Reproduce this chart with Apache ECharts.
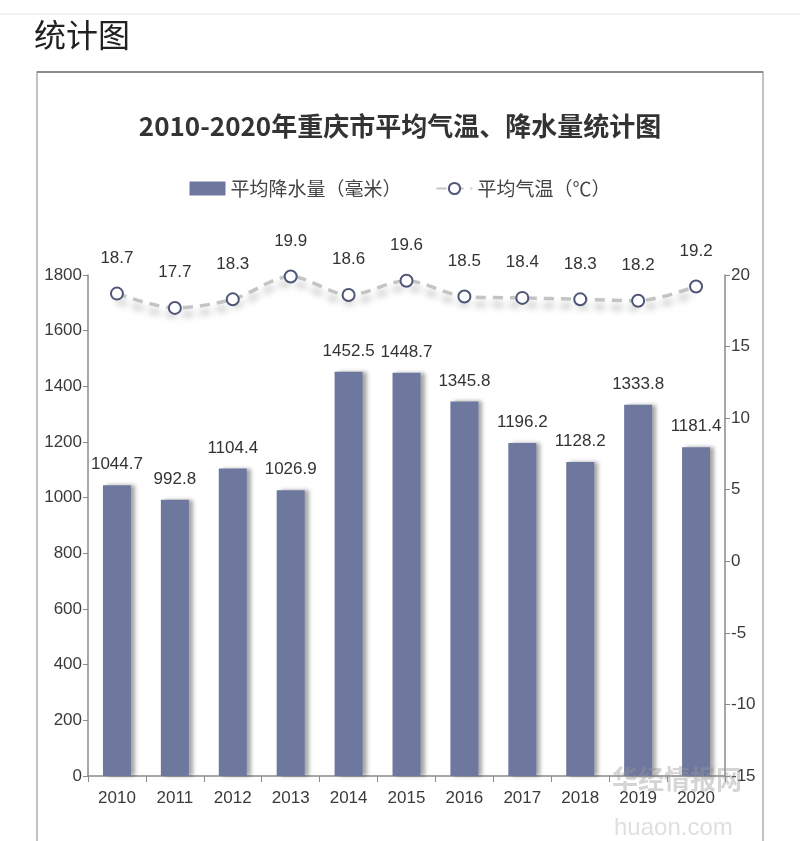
<!DOCTYPE html>
<html>
<head>
<meta charset="utf-8">
<script src="https://cdn.jsdelivr.net/npm/echarts@6/dist/echarts.min.js"></script>
<style>
html,body{margin:0;padding:0;background:#fff;}
#c{width:800px;height:841px;}
</style>
</head>
<body>
<div id="c"></div>
<script>
var years = ['2010','2011','2012','2013','2014','2015','2016','2017','2018','2019','2020'];
var rain = [1044.7, 992.8, 1104.4, 1026.9, 1452.5, 1448.7, 1345.8, 1196.2, 1128.2, 1333.8, 1181.4];
var temp = [18.7, 17.7, 18.3, 19.9, 18.6, 19.6, 18.5, 18.4, 18.3, 18.2, 19.2];
var leftTicks = {min: 0, max: 1800, interval: 200};
var rightTicks = {min: -15, max: 20, interval: 5};

var NARROW = "Liberation Sans";
var CJK = "Noto Sans CJK SC";
var FS = 17;

var chart = echarts.init(document.getElementById('c'));
chart.setOption({
  backgroundColor: '#fff',
  animation: false,
  graphic: [
    {type:'line', shape:{x1:0,y1:14,x2:800,y2:14}, style:{stroke:'#e6e6e6', lineWidth:1}},
    {type:'text', left:34, top:19, style:{text:'统计图', font:'400 32px ' + CJK, fill:'#222'}},
    {type:'rect', shape:{x:37, y:72, width:726, height:820}, style:{fill:'none', stroke:'#b0b0b0', lineWidth:1.5}, z:-1},
    {type:'line', shape:{x1:37,y1:72,x2:763,y2:72}, style:{stroke:'#8c8c8c', lineWidth:2}},
    {type:'text', left:612, top:766, style:{text:'华经情报网', font:'bold 26px ' + CJK, fill:'rgba(150,150,150,0.4)'}, z:100},
    {type:'text', left:614, top:816, style:{text:'huaon.com', font:'24px ' + NARROW, fill:'rgba(150,150,150,0.3)'}, z:100}
  ],
  title: {
    text: '2010-2020年重庆市平均气温、降水量统计图',
    left: 'center',
    top: 108,
    textStyle: {fontFamily: CJK, fontSize: 26, fontWeight: 'bold', color: '#333'}
  },
  legend: {
    top: 174,
    left: 'center',
    itemGap: 34,
    itemWidth: 36,
    itemHeight: 14,
    textStyle: {fontFamily: CJK, fontSize: 19, color: '#444'},
    data: [
      {name: '平均降水量（毫米）', icon: 'rect'},
      {name: '平均气温（℃）'}
    ]
  },
  grid: {left: 88, right: 75, top: 275, bottom: 65},
  xAxis: {
    type: 'category',
    data: years,
    boundaryGap: true,
    axisLine: {lineStyle: {color: '#8a8a8a', width: 1.5}},
    axisTick: {show: true, length: 6, lineStyle: {color: '#8a8a8a'}},
    axisLabel: {fontFamily: NARROW, fontSize: FS, color: '#3a3a3a', margin: 14}
  },
  yAxis: [
    {
      type: 'value',
      min: leftTicks.min, max: leftTicks.max, interval: leftTicks.interval,
      axisLine: {show: true, lineStyle: {color: '#8a8a8a', width: 1.5}},
      axisTick: {show: true, length: 5, lineStyle: {color: '#8a8a8a'}},
      splitLine: {show: false},
      axisLabel: {fontFamily: NARROW, fontSize: FS, color: '#3a3a3a', margin: 6, formatter: function(v){return String(v);}}
    },
    {
      type: 'value',
      min: rightTicks.min, max: rightTicks.max, interval: rightTicks.interval,
      axisLine: {show: true, lineStyle: {color: '#8a8a8a', width: 1.5}},
      axisTick: {show: true, length: 5, lineStyle: {color: '#8a8a8a'}},
      splitLine: {show: false},
      axisLabel: {fontFamily: NARROW, fontSize: FS, color: '#3a3a3a', margin: 6, formatter: function(v){return String(v);}}
    }
  ],
  series: [
    {
      name: '平均降水量（毫米）',
      type: 'bar',
      data: rain,
      barWidth: 28,
      itemStyle: {color: '#6e789f', shadowColor: 'rgba(0,0,0,0.35)', shadowBlur: 4, shadowOffsetX: 4, shadowOffsetY: 0},
      label: {show: true, position: 'top', distance: 12, fontFamily: NARROW, fontSize: FS, color: '#333'}
    },
    {
      name: '平均气温（℃）',
      type: 'line',
      yAxisIndex: 1,
      data: temp,
      smooth: 0.3,
      symbol: 'circle',
      symbolSize: 12,
      itemStyle: {color: '#fff', borderColor: '#4e5678', borderWidth: 2},
      lineStyle: {color: '#c4c4c4', width: 3.5, type: [10, 7], shadowColor: 'rgba(0,0,0,0.35)', shadowBlur: 7, shadowOffsetY: 7},
      label: {show: true, position: 'top', distance: 20, fontFamily: NARROW, fontSize: FS, color: '#333'},
      z: 5
    }
  ]
});
</script>
</body>
</html>
